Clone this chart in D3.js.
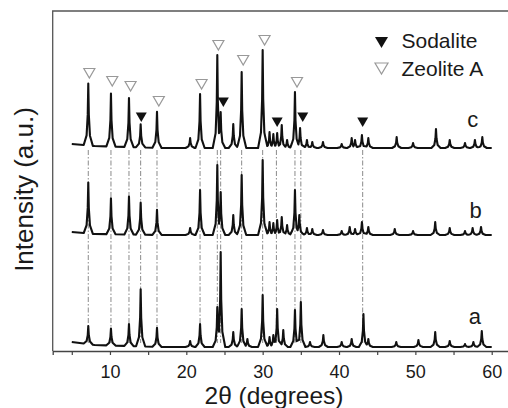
<!DOCTYPE html>
<html>
<head>
<meta charset="utf-8">
<script src="https://cdn.jsdelivr.net/npm/d3@7"></script>
<style>
body { margin: 0; background: #fff; }
text { font-family: "Liberation Sans", Arial, sans-serif; fill: #1a1a1a; }
</style>
</head>
<body>
<script>
//Width and height
var w = 508;
var h = 408;

//trace names, vertical offsets (a.u.) and label spots
var traceNames = ["a", "b", "c"];
var traceOffsets = [4, 116, 203];
var labelPos = [[57.8, 23], [57.9, 17], [57.5, 21]];

//peaks: [2theta, height above baseline]
var peaksA = [[7.16,18],[10.13,17],[12.49,22],[14.02,57],[16.16,19],[20.5,6],[21.8,23],[24.06,40],[24.5,95],
  [26.15,15],[27.25,38],[28.0,8],[30.0,52],[30.9,10],[31.4,12],[31.9,38],[32.7,17],[34.23,37],[35.0,45],
  [36.2,5],[37.95,12],[40.35,5],[41.66,8],[43.2,33],[43.84,8],[47.5,5],[50.4,7],[52.6,15],[54.5,6],
  [56.5,3],[57.6,5],[58.7,16]];
var peaksB = [[7.16,51],[10.13,36],[12.49,38],[14.02,32],[16.16,25],[20.5,7],[21.8,45],[24.06,70],[24.5,43],
  [26.15,20],[27.25,60],[30.0,75],[30.9,13],[31.4,12],[31.9,15],[32.5,18],[33.2,10],[34.23,45],[34.8,20],
  [35.8,7],[36.5,6],[37.9,5],[40.35,4],[41.4,8],[42.1,6],[43.0,13],[43.84,8],[47.3,6],[49.7,4],[52.6,13],
  [54.5,7],[56.5,4],[57.5,7],[58.6,8]];
var peaksC = [[7.16,62],[10.13,53],[12.49,49],[14.02,23],[16.16,36],[20.5,10],[21.8,54],[24.06,93],[24.5,36],
  [26.15,24],[27.25,76],[30.0,98],[30.9,16],[31.4,14],[31.9,15],[32.5,23],[33.2,8],[34.23,56],[34.9,20],
  [35.8,8],[36.5,6],[37.9,6],[40.35,4],[41.66,10],[42.1,8],[43.0,13],[43.84,10],[47.55,11],[49.7,5],
  [52.7,19],[54.5,8],[56.5,5],[57.8,8],[58.77,11]];

//background level under each trace
var bgA = [[5,5],[8,2],[17,0],[60,0]];
var bgB = [[5,3],[8,1],[17,0],[60,0]];
var bgC = [[5,4],[8,2],[17,0],[60,0]];

//reflection markers over trace c: [2theta, level above c baseline]
var zeoliteA = [[7.3,70],[10.3,62],[12.7,57],[16.4,42],[22.0,59],[24.2,98],[27.45,83],[30.25,103],[34.5,61]];
var sodalite = [[14.1,26],[24.85,41],[31.9,21],[35.25,26],[43.1,21]];
//guide line positions
var guides = [7.16, 10.13, 12.49, 14.02, 16.16, 21.8, 24.06, 24.5, 27.25, 30.0, 31.8, 34.23, 35.0, 43.1];

var xTicks = [5, 10, 15, 20, 25, 30, 35, 40, 45, 50, 55, 60];

var svg = d3.select("body")
            .append("svg")
            .attr("width", w)
            .attr("height", h);

var x = d3.scaleLinear().domain([2.5, 62.5]).range([52.7, 510.8]);
var y = d3.scaleLinear().domain([0, 340]).range([351, 11]);

//peak glyph: distance from the peak in degrees -> share of its height
var kern = d3.scaleLinear().domain([0, 0.07, 0.22, 0.6]).range([1, 0.5, 0.16, 0]).clamp(true);
var kernSteps = [-0.6, -0.22, -0.07, 0, 0.07, 0.22, 0.6];

function profile(peaks, bg, off) {
    var bgScale = d3.scaleLinear().domain(bg.map(function(d) { return d[0]; }))
                                  .range(bg.map(function(d) { return d[1]; }));
    function at(t) {
        var m = d3.max(peaks, function(p) { return kern(Math.abs(t - p[0])) * p[1]; });
        return off + bgScale(t) + m;
    }
    var xs = bg.map(function(d) { return d[0]; });
    peaks.forEach(function(p) {
        kernSteps.forEach(function(k) { xs.push(p[0] + k); });
    });
    xs = xs.filter(function(t) { return t >= 5 && t <= 60; }).sort(d3.ascending);
    return xs.map(function(t) { return [t, at(t)]; });
}

var traces = [profile(peaksA, bgA, traceOffsets[0]),
              profile(peaksB, bgB, traceOffsets[1]),
              profile(peaksC, bgC, traceOffsets[2])];

//dash-dot guide lines from c down to a
svg.selectAll("line.guide")
   .data(guides)
   .enter()
   .append("line")
   .attr("class", "guide")
   .attr("x1", function(d) { return x(d); })
   .attr("x2", function(d) { return x(d); })
   .attr("y1", y(traceOffsets[2] - 2))
   .attr("y2", y(traceOffsets[0] + 4))
   .attr("stroke", "#8a8a8a")
   .attr("stroke-width", 1)
   .attr("stroke-dasharray", "5,2,1.5,2");

var line = d3.line()
    .x(function(d) { return x(d[0]); })
    .y(function(d) { return y(d[1]); });

svg.selectAll("path.trace")
   .data(traces)
   .enter()
   .append("path")
   .attr("class", "trace")
   .attr("d", line)
   .attr("fill", "none")
   .attr("stroke", "#111")
   .attr("stroke-width", 2.1)
   .attr("stroke-linejoin", "round");

//markers above trace c
var tri = "M-5.5,-9.5L5.5,-9.5L0,0Z";
svg.selectAll("path.zeo")
   .data(zeoliteA)
   .enter()
   .append("path")
   .attr("class", "zeo")
   .attr("d", tri)
   .attr("transform", function(d) { return "translate(" + x(d[0]) + "," + y(traceOffsets[2] + d[1]) + ")"; })
   .attr("fill", "#fff")
   .attr("stroke", "#999")
   .attr("stroke-width", 1.2);

svg.selectAll("path.sod")
   .data(sodalite)
   .enter()
   .append("path")
   .attr("class", "sod")
   .attr("d", tri)
   .attr("transform", function(d) { return "translate(" + x(d[0]) + "," + y(traceOffsets[2] + d[1]) + ")"; })
   .attr("fill", "#111");

//trace labels
svg.selectAll("text.lab")
   .data(traceNames)
   .enter()
   .append("text")
   .attr("class", "lab")
   .attr("x", function(d, i) { return x(labelPos[i][0]); })
   .attr("y", function(d, i) { return y(traceOffsets[i] + labelPos[i][1]); })
   .attr("text-anchor", "middle")
   .style("font-size", "22px")
   .text(function(d) { return d; });

//frame
svg.append("path")
   .attr("d", "M" + x.range()[0] + "," + y(0) + "V" + y.range()[1] + "H" + x.range()[1])
   .attr("fill", "none")
   .attr("stroke", "#555")
   .attr("stroke-width", 1.3);

var ax = svg.append("g")
   .attr("transform", "translate(0," + y(0) + ")")
   .call(d3.axisBottom(x)
        .tickValues(xTicks)
        .tickSize(4)
        .tickFormat(function(d) { return d % 10 === 0 ? d : ""; }));
ax.select(".domain").attr("stroke", "#444").attr("stroke-width", 1.3);
ax.selectAll(".tick line").attr("stroke", "#444").attr("stroke-width", 1.2);
ax.selectAll(".tick text")
   .attr("y", 27)
   .attr("dy", 0)
   .style("font-size", "18px")
   .style("font-family", "Liberation Sans, Arial, sans-serif")
   .attr("fill", "#1a1a1a");

//axis titles
svg.append("text")
   .attr("x", 274)
   .attr("y", 404)
   .attr("text-anchor", "middle")
   .style("font-size", "24.5px")
   .text("2\u03b8 (degrees)");

svg.append("text")
   .attr("transform", "translate(33,189.5) rotate(-90)")
   .attr("text-anchor", "middle")
   .style("font-size", "26px")
   .text("Intensity (a.u.)");

//legend
var lg = svg.append("g").attr("transform", "translate(381.5,0)");
lg.append("path")
  .attr("d", "M-6.5,-11L6.5,-11L0,0Z")
  .attr("transform", "translate(0,48)")
  .attr("fill", "#111");
lg.append("path")
  .attr("d", "M-6.5,-11L6.5,-11L0,0Z")
  .attr("transform", "translate(0,74)")
  .attr("fill", "#fff")
  .attr("stroke", "#999")
  .attr("stroke-width", 1.2);
lg.append("text").attr("x", 20).attr("y", 48.3).style("font-size", "21px").text("Sodalite");
lg.append("text").attr("x", 20).attr("y", 76).style("font-size", "21px").text("Zeolite A");
</script>
</body>
</html>
